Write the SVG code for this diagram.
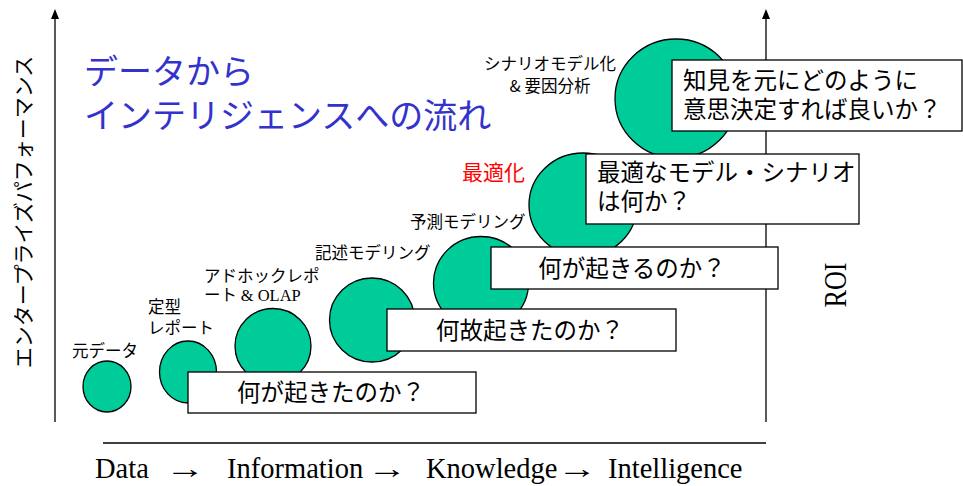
<svg xmlns="http://www.w3.org/2000/svg" width="963" height="486" viewBox="0 0 963 486">
<style>
.jp{font-family:"Noto Sans CJK JP","Noto Sans",sans-serif;fill:#000}
.lbl{font-size:16.5px}
.box{fill:#fff;stroke:#000;stroke-width:1.3}
.q{font-size:23.5px}
.c{fill:#00CC99;stroke:#000;stroke-width:1.3}
.ser{font-family:"Liberation Serif","Times New Roman",serif;fill:#000}
.ax{stroke:#000;stroke-width:1.3;fill:none}
</style>
<defs>
<marker id="ah" markerWidth="10" markerHeight="10" refX="5" refY="5" orient="auto" markerUnits="userSpaceOnUse">
<path d="M0,1 L10,5 L0,9 Z" fill="#000"/>
</marker>
</defs>
<rect width="963" height="486" fill="#fff"/>
<g id="connectors">
<line class="ax" x1="55" y1="422" x2="55" y2="14" marker-end="url(#ah)"/>
<line class="ax" x1="766" y1="422" x2="766" y2="14" marker-end="url(#ah)"/>
<line class="ax" x1="103" y1="443" x2="766" y2="443"/>
</g>
<g id="axis-labels">
<text class="jp" font-size="21" text-anchor="middle" transform="translate(31,212) rotate(-90)">エンタープライズパフォーマンス</text>
<text class="ser" font-size="31" text-anchor="middle" textLength="45" lengthAdjust="spacingAndGlyphs" transform="translate(846,285) rotate(-90)">ROI</text>
<text class="ser" font-size="28.5" y="478"><tspan x="95">Data</tspan><tspan x="227">Information</tspan><tspan x="426">Knowledge</tspan><tspan x="608">Intelligence</tspan></text>
<text class="ser" font-size="28.5" transform="translate(165,478) scale(1.4,1)">→</text>
<text class="ser" font-size="28.5" transform="translate(367,478) scale(1.4,1)">→</text>
<text class="ser" font-size="28.5" transform="translate(557,478) scale(1.4,1)">→</text>
</g>
<g id="title">
<text class="jp" font-size="34" fill="#3333CC" style="fill:#3333CC" x="84" y="84">データから</text>
<text class="jp" font-size="34" fill="#3333CC" style="fill:#3333CC" x="84" y="128">インテリジェンスへの流れ</text>
</g>
<g id="n1"><ellipse class="c" cx="107" cy="386.5" rx="24" ry="25.5"/><text class="jp lbl" x="72" y="357">元データ</text></g>
<g id="n2"><ellipse class="c" cx="188" cy="372" rx="28.5" ry="31"/><text class="jp lbl" x="148" y="313">定型</text><text class="jp lbl" x="148" y="334">レポート</text></g>
<g id="n3"><ellipse class="c" cx="273" cy="346" rx="38" ry="37.5"/><text class="jp lbl" x="204" y="282">アドホックレポ</text><text class="jp lbl" x="204" y="301">ート <tspan style="font-family:'Liberation Serif','Times New Roman',serif">&amp; OLAP</tspan></text></g>
<g id="n4"><ellipse class="c" cx="372" cy="320" rx="42.5" ry="42"/><text class="jp lbl" x="315" y="259">記述モデリング</text></g>
<g id="n5"><ellipse class="c" cx="481" cy="283" rx="47.5" ry="46.5"/><text class="jp lbl" x="410" y="228">予測モデリング</text></g>
<g id="n6"><ellipse class="c" cx="583" cy="205" rx="54" ry="52"/><text class="jp" font-size="21" fill="#FF0000" style="fill:#FF0000" x="462" y="180">最適化</text></g>
<g id="n7"><ellipse class="c" cx="676" cy="98.5" rx="61" ry="59.5"/><text class="jp lbl" x="550" y="70" text-anchor="middle">シナリオモデル化</text><text class="jp lbl" x="550" y="92" text-anchor="middle">&amp; 要因分析</text></g>
<g id="qA"><rect class="box" x="188" y="372" width="288" height="41"/><text class="jp q" x="331" y="401" text-anchor="middle">何が起きたのか？</text></g>
<g id="qB"><rect class="box" x="387" y="309" width="289" height="42"/><text class="jp q" x="530" y="339" text-anchor="middle">何故起きたのか？</text></g>
<g id="qC"><rect class="box" x="491" y="247" width="287" height="42"/><text class="jp q" x="632" y="277" text-anchor="middle">何が起きるのか？</text></g>
<g id="qD"><rect class="box" x="586" y="154" width="273" height="70"/><text class="jp q" x="597" y="181">最適なモデル・シナリオ</text><text class="jp q" x="597" y="210">は何か？</text></g>
<g id="qE"><rect class="box" x="672" y="60" width="290" height="71"/><text class="jp q" x="683" y="89">知見を元にどのように</text><text class="jp q" x="683" y="118">意思決定すれば良いか？</text></g>
</svg>
